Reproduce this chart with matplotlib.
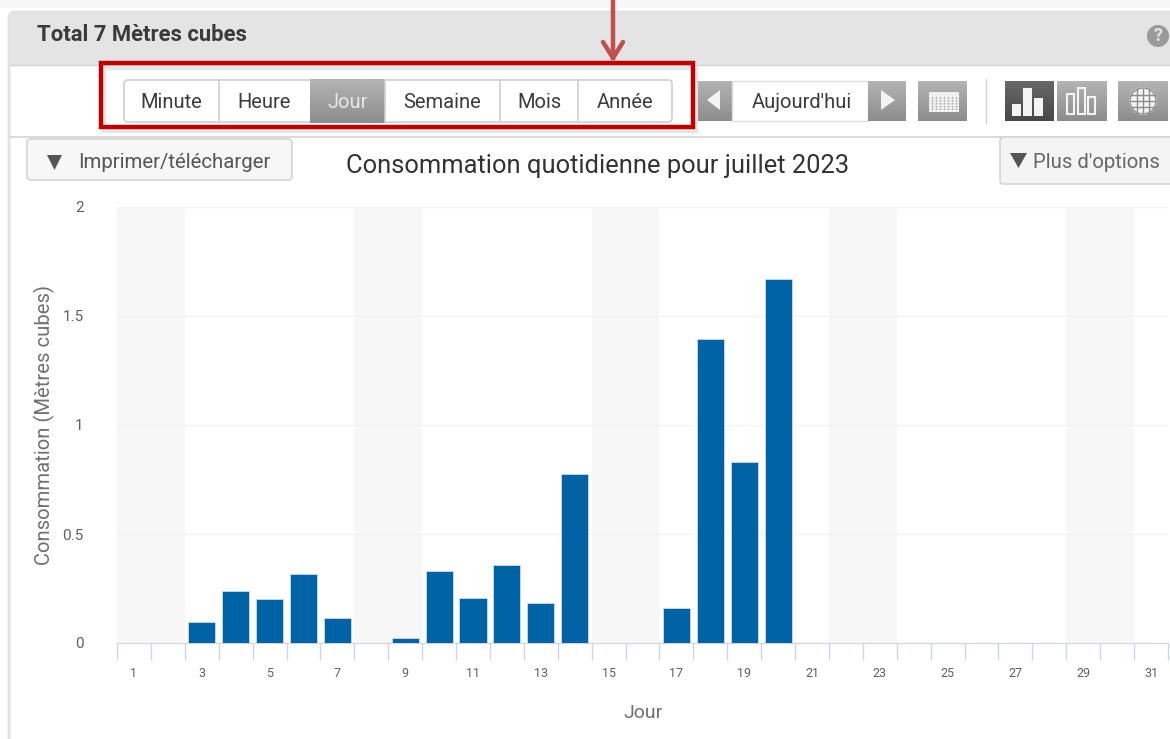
import numpy as np
import matplotlib
matplotlib.use('Agg')
import matplotlib.pyplot as plt
from matplotlib.patches import FancyBboxPatch, Rectangle, Polygon, Circle

plt.rcParams['font.family'] = ['Roboto', 'DejaVu Sans']

# data
days = [3, 4, 5, 6, 7, 9, 10, 11, 12, 13, 14, 17, 18, 19, 20]
conso = [0.095, 0.24, 0.20, 0.315, 0.115, 0.025, 0.33, 0.205, 0.36, 0.185, 0.775, 0.16, 1.395, 0.83, 1.67]
weekends = [(1, 2), (8, 9), (15, 16), (22, 23), (29, 30)]
yticks = [0, 0.5, 1, 1.5, 2]
yticklabels = ['0', '0.5', '1', '1.5', '2']
xticklabels = list(range(1, 32, 2))
periods = ['Minute', 'Heure', 'Jour', 'Semaine', 'Mois', 'Année']
period_edges = [124, 219, 310, 385, 500, 578, 672]

W, H = 1170, 739
fig = plt.figure(figsize=(W/100., H/100.), dpi=100)

# overlay in pixel coords for the page around the chart
ui = fig.add_axes([0, 0, 1, 1], zorder=1)
ui.axis('off')


def box(x0, y0, x1, y1, fc='white', ec='#d0d0d0', lw=1.2, r=4, z=2, **kw):
    p = FancyBboxPatch((x0+r, y0+r), x1-x0-2*r, y1-y0-2*r, boxstyle='round,pad=%d,rounding_size=%d' % (r, r),
                       fc=fc, ec=ec, lw=lw, zorder=z, **kw)
    ui.add_patch(p)
    return p


def grad(x0, y0, x1, y1, top='#b4b4b4', bottom='#8c8c8c', z=2):
    c0 = np.array(matplotlib.colors.to_rgb(top))
    c1 = np.array(matplotlib.colors.to_rgb(bottom))
    t = np.linspace(0, 1, 40)[:, None, None]
    img = c0[None, None, :]*(1-t) + c1[None, None, :]*t
    ui.imshow(img, extent=(x0, x1, y1, y0), aspect='auto', zorder=z)


def label(x, y, s, size=14.5, color='#3c3c3c', ha='center', **kw):
    ui.text(x, y, s, fontsize=size, color=color, ha=ha, va='center', zorder=6, **kw)


# page + header band
ui.add_patch(Rectangle((0, 0), W, 8, fc='#f7f7f7', ec='none', zorder=1))
box(9, 12, 1200, 800, fc='white', ec='#e2e2e2', lw=2, r=6, z=1)
ui.add_patch(Rectangle((10, 13), W-10, 52, fc='#e4e4e4', ec='none', zorder=1.5))
ui.plot([10, W], [65, 65], color='#d4d4d4', lw=1, zorder=1.6)
ui.plot([10, W], [137, 137], color='#d4d4d4', lw=1.2, zorder=1.6)
label(37, 35, 'Total 7 Mètres cubes', size=15.8, color='#3a3a3a', ha='left', fontweight='bold')
ui.add_patch(Circle((1158, 36), 11, fc='#9a9a9a', ec='none', zorder=3))
label(1158, 36, '?', size=13, color='#e4e4e4', fontweight='bold')

# period selector
box(124, 80, 672, 122, fc='white', ec='#d0d0d0', z=2)
for ii, name in enumerate(periods):
    x0, x1 = period_edges[ii], period_edges[ii+1]
    if name == 'Jour':
        grad(x0, 79, x1, 123)
    elif ii > 0:
        ui.plot([x0, x0], [80, 122], color='#d0d0d0', lw=1.2, zorder=3)
    label((x0+x1)/2., 102, name, color='#e8e8e8' if name == 'Jour' else '#3c3c3c')

# red highlight with shadow, arrow
ui.add_patch(Rectangle((104, 68), 592, 63, fc='none', ec='#e6e6e6', lw=3, zorder=3))
ui.add_patch(Rectangle((101, 63), 592, 64, fc='none', ec='#c00000', lw=3.2, zorder=5))
ui.plot([613, 613], [0, 58], color='#c0504d', lw=3.2, zorder=5)
ui.plot([603, 613, 623], [42, 58, 42], color='#c0504d', lw=3.2, zorder=5, solid_capstyle='round')

# date navigation
grad(696, 81, 732, 121)
ui.add_patch(Polygon([[720, 90], [720, 110], [707, 100]], fc='#f4f4f4', ec='none', zorder=4))
ui.add_patch(Rectangle((732, 81), 136, 40, fc='white', ec='#dddddd', lw=1, zorder=2))
label(802, 102, "Aujourd'hui")
grad(868, 81, 906, 121)
ui.add_patch(Polygon([[881, 90], [881, 110], [895, 100]], fc='#f4f4f4', ec='none', zorder=4))

# calendar button
grad(918, 81, 967, 121)
ui.add_patch(Rectangle((929, 92), 30, 20, fc='#f0f0f0', ec='none', zorder=4))
for xx in np.arange(932, 958, 4):
    ui.plot([xx, xx], [97, 110], color='#9a9a9a', lw=1, ls=(0, (1, 1)), zorder=5)

ui.plot([986, 986], [79, 123], color='#d4d4d4', lw=1, zorder=2)

# chart type buttons
grad(1005, 81, 1054, 121, top='#686868', bottom='#484848')
grad(1057, 81, 1107, 121)
grad(1118, 81, 1168, 121)
for xx, hh in zip([1012, 1023, 1034], [12, 28, 18]):
    ui.add_patch(Rectangle((xx, 116-hh), 9, hh, fc='#f4f4f4', ec='none', zorder=4))
for xx, hh in zip([1067, 1078, 1088], [20, 26, 17]):
    ui.add_patch(Rectangle((xx, 114-hh), 7, hh, fc='none', ec='#f4f4f4', lw=1.5, zorder=4))
ui.add_patch(Circle((1143, 101), 14, fc='#f4f4f4', ec='none', zorder=4))
ui.add_patch(Circle((1143, 101), 13, fc='none', ec='#8c8c8c', lw=1, zorder=5))
for dx in [-6, 0, 6]:
    ui.plot([1143+dx, 1143+dx], [89, 113], color='#8c8c8c', lw=1, zorder=5)
for dy in [-6, 0, 6]:
    ui.plot([1131, 1155], [101+dy, 101+dy], color='#8c8c8c', lw=1, zorder=5)

# print and options buttons
box(27, 139, 292, 180, fc='#f7f7f7', ec='#d4d4d4')
ui.add_patch(Polygon([[47, 155], [62, 155], [54.5, 170]], fc='#555555', ec='none', zorder=4))
label(78, 162, 'Imprimer/télécharger', size=14.7, color='#555555', ha='left')
box(1000, 137, 1190, 184, fc='#f4f4f4', ec='#d4d4d4')
ui.add_patch(Polygon([[1010, 153], [1027, 153], [1018.5, 168]], fc='#555555', ec='none', zorder=4))
label(1033, 162, "Plus d'options", size=14.6, color='#666666', ha='left')
label(597.5, 166, 'Consommation quotidienne pour juillet 2023', size=18.4, color='#333333')

ui.set_xlim(0, W)
ui.set_ylim(H, 0)

# chart
ax = fig.add_axes([117./W, 1-643./H, (1168-117.)/W, (643-207.)/H], zorder=2)
ax.patch.set_alpha(0)
for d0, d1 in weekends:
    ax.axvspan(d0-0.5, d1+0.5, color='#f7f7f7', lw=0, zorder=0)
ax.bar(days, conso, width=0.8, color='#0063a6', edgecolor='#cfdcec', linewidth=0.6, zorder=3)
ax.set_xlim(0.5, 31.5)
ax.set_ylim(0, 2)
ax.set_yticks(yticks)
ax.set_yticklabels(yticklabels, fontsize=11, color='#606060')
ax.set_xticks(np.arange(0.5, 32, 1))
ax.set_xticklabels([])
ax.set_xticks(xticklabels, labels=xticklabels, minor=True, fontsize=9, color='#606060')
ax.tick_params(axis='x', which='major', length=12, width=1, color='#ccd6eb')
ax.tick_params(axis='x', which='minor', length=0, pad=17)
ax.tick_params(axis='y', length=0, pad=24)
ax.grid(axis='y', color='#f3f3f3', lw=1, zorder=1)
ax.set_axisbelow(True)
for s in ['top', 'right', 'left']:
    ax.spines[s].set_visible(False)
ax.spines['bottom'].set_color('#ccd6eb')
ax.set_xlabel('Jour', fontsize=14, color='#707070')
ax.set_ylabel('Consommation (Mètres cubes)', fontsize=14.6, color='#707070')
ax.yaxis.set_label_coords((44-117.)/(1168-117.), (643-425.)/(643-207.))
ax.xaxis.set_label_coords((643.5-117.)/(1168-117.), -(713-643.)/(643-207.))
ax.xaxis.label.set_va('center')
ax.yaxis.label.set_va('center')

plt.savefig('out.png', dpi=100)
